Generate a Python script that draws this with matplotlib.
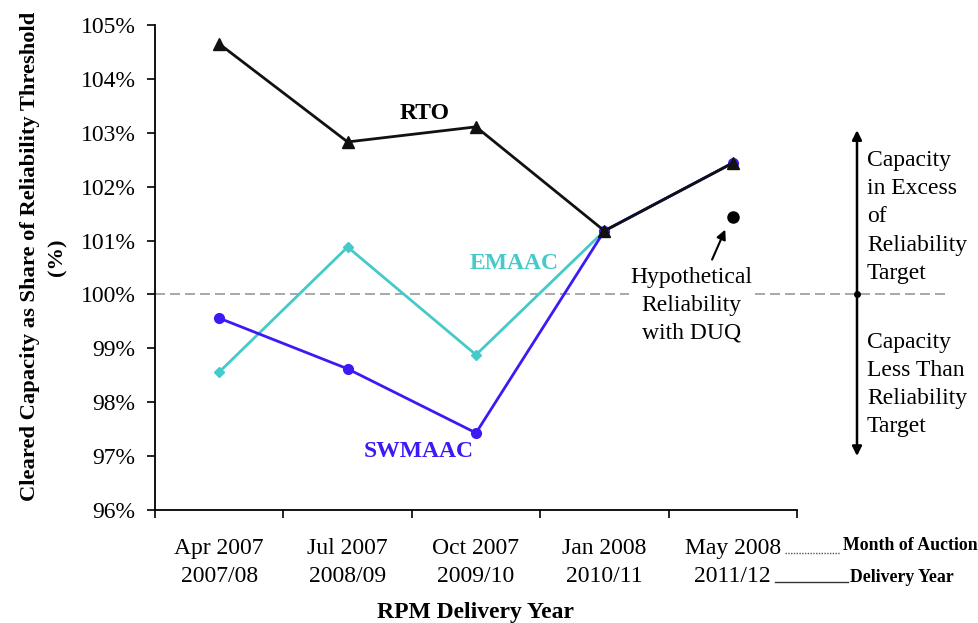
import matplotlib
matplotlib.use("Agg")
import matplotlib.pyplot as plt
from matplotlib.lines import Line2D

plt.rcParams['font.family'] = ['Liberation Serif', 'DejaVu Serif']

auction_months = ["Apr 2007", "Jul 2007", "Oct 2007", "Jan 2008", "May 2008"]
delivery_years = ["2007/08", "2008/09", "2009/10", "2010/11", "2011/12"]
rto = [104.65, 102.83, 103.11, 101.18, 102.44]
emaac = [98.56, 100.88, 98.88, 101.18, 102.44]
swmaac = [99.56, 98.62, 97.43, 101.18, 102.44]
duq_hypothetical = 101.44

cyan = "#45C9C9"
blue = "#3A1AF5"
FS = 17

fig = plt.figure(figsize=(9.79, 6.23), dpi=100)
ax = fig.add_axes([155/979, 1-510/623, (797-155)/979, (510-25)/623])

x = list(range(len(auction_months)))
ax.plot(x, emaac, color=cyan, lw=2, marker='D', ms=5, zorder=3)
ax.plot(x, swmaac, color=blue, lw=2, marker='o', ms=7, zorder=4)
ax.plot(x, rto, color='#111111', lw=2, marker='^', ms=8, zorder=5)
ax.plot([4], [duq_hypothetical], 'o', color='black', ms=8, zorder=6)

ax.set_xlim(-0.5, 4.5)
ax.set_ylim(96, 105)
ax.set_yticks(range(96, 106))
ax.set_yticklabels([f"{v}%" for v in range(96, 106)], fontsize=FS)
ax.set_xticks([i - 0.5 for i in range(6)])
ax.set_xticklabels([])
ax.set_xticks(x, minor=True)
ax.set_xticklabels([f"{a}\n{d}" for a, d in zip(auction_months, delivery_years)],
                   minor=True, fontsize=FS, linespacing=1.45)
ax.tick_params(axis='x', which='minor', length=0, pad=20)
ax.tick_params(axis='x', which='major', length=6, width=1.2, direction='out')
ax.tick_params(axis='y', length=6, width=1.2, direction='out', pad=8)
ax.spines['top'].set_visible(False)
ax.spines['right'].set_visible(False)
for s in ['left', 'bottom']:
    ax.spines[s].set_linewidth(1.3)

# 100% dashed reference line extending outside
ax.plot([-0.5, 5.65], [100, 100], ls=(0, (6, 3)), color='#999999', lw=1.2,
        clip_on=False, zorder=1)

ax.set_ylabel("Cleared Capacity as Share of Reliability Threshold\n(%)",
              fontsize=16.2, fontweight='bold', linespacing=1.45)
ax.yaxis.set_label_coords(-0.137, 0.522)
ax.set_xlabel("RPM Delivery Year", fontsize=FS, fontweight='bold', labelpad=11)

ax.text(1.6, 103.35, "RTO", fontsize=FS, fontweight='bold', ha='center', va='center')
ax.text(2.3, 100.57, "EMAAC", fontsize=FS, fontweight='bold', color=cyan,
        ha='center', va='center')
ax.text(1.55, 97.08, "SWMAAC", fontsize=FS, fontweight='bold', color=blue,
        ha='center', va='center')

ax.text(3.68, 99.8, "Hypothetical\nReliability\nwith DUQ", fontsize=FS,
        ha='center', va='center', linespacing=1.45,
        bbox=dict(facecolor='white', edgecolor='none', pad=1), zorder=7)
ax.annotate("", xy=(3.95, 101.25), xytext=(3.83, 100.6),
            arrowprops=dict(arrowstyle='-|>', color='black', lw=1.5,
                            mutation_scale=14), zorder=8)

# right side double arrow
ax_x = lambda px: (px - 155) / 128.4 - 0.5
xa = ax_x(857)
ax.annotate("", xy=(xa, 103.1), xytext=(xa, 100),
            arrowprops=dict(arrowstyle='-|>', color='black', lw=1.8,
                            mutation_scale=14), annotation_clip=False)
ax.annotate("", xy=(xa, 96.95), xytext=(xa, 100),
            arrowprops=dict(arrowstyle='-|>', color='black', lw=1.8,
                            mutation_scale=14), annotation_clip=False)
ax.plot([xa], [100], 'o', color='black', ms=4, clip_on=False)
xt = ax_x(867)
ax.text(xt, 102.68, "Capacity\nin Excess\nof\nReliability\nTarget", fontsize=FS,
        ha='left', va='top', linespacing=1.45, clip_on=False)
ax.text(xt, 99.31, "Capacity\nLess Than\nReliability\nTarget", fontsize=FS,
        ha='left', va='top', linespacing=1.45, clip_on=False)

# legend-like notes at bottom right
fig.add_artist(Line2D([785/979, 840/979], [1-553/623, 1-553/623], color='#555555',
                      lw=1, ls=(0, (1, 1))))
fig.text(843/979, 1-546/623, "Month of Auction", fontsize=12.8, fontweight='bold',
         ha='left', va='center')
fig.add_artist(Line2D([775/979, 848/979], [1-582/623, 1-582/623], color='#333333', lw=1))
fig.text(850/979, 1-578/623, "Delivery Year", fontsize=12.8, fontweight='bold',
         ha='left', va='center')

fig.savefig("out.png", dpi=100)
